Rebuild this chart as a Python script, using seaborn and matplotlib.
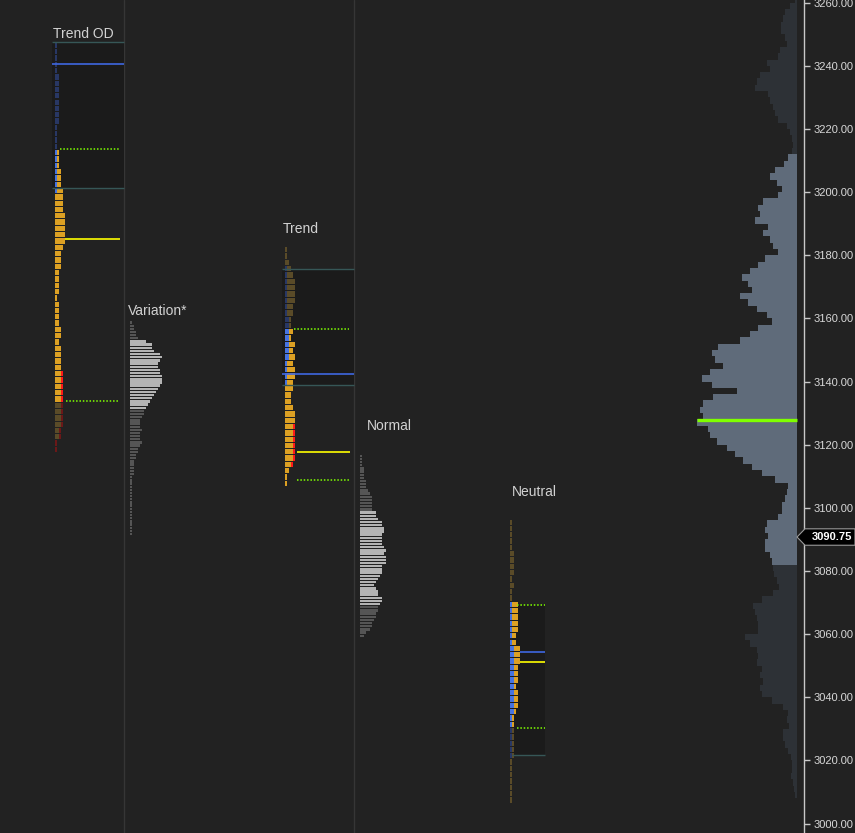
import numpy as np
import matplotlib
matplotlib.use("Agg")
import matplotlib.pyplot as plt
import seaborn as sns

sns.set_theme(style="dark", rc={"axes.facecolor": "#222222", "figure.facecolor": "#222222",
                                "patch.edgecolor": "none", "patch.linewidth": 0})
plt.rcParams["font.family"] = ["Liberation Sans", "DejaVu Sans"]

# ---- data -------------------------------------------------------------
# TPO profiles: row counts from top row downwards, blue (first period) and red (last period) counts
tod_total = [1, 1, 1, 1, 1, 2, 2, 2, 2, 2, 2, 2, 2, 1, 1, 1, 1, 2, 2, 2, 3, 3, 3, 4, 4, 4, 4,
             5, 5, 5, 5, 5, 4, 3, 3, 3, 2, 2, 2, 2, 1, 2, 2, 2, 2, 3, 3, 2, 3, 3, 3, 3,
             4, 4, 4, 4, 4, 4, 4, 4, 4, 3, 3, 1, 1]
tod_blue = [1, 1, 1, 1, 1, 2, 2, 2, 2, 2, 2, 2, 2, 1, 1, 1, 1, 1, 1, 1, 1, 1, 1, 1] + [0] * 41
tod_red = [0] * 52 + [1] * 13
tod_va = (17, 56)
tod_levels = {"box": (3201.3, 3247.5), "blue": 3240.6, "green": [3213.7, 3133.8], "yellow": 3185.15}

trend_total = [1, 1, 2, 3, 4, 5, 5, 5, 5, 4, 4, 3, 3, 4, 3, 5, 4, 5, 4, 5,
               5, 4, 4, 3, 3, 4, 5, 5, 5, 5, 5, 5, 5, 5, 4, 2, 1, 1]
trend_blue = [0, 0, 0, 1, 1, 1, 1, 1, 1, 1, 1, 2, 2, 2, 2, 2, 2, 2, 1, 1, 1, 1] + [0] * 16
trend_red = [0] * 28 + [1] * 7 + [0] * 3
trend_va = (13, 37)
trend_levels = {"box": (3138.9, 3175.55), "blue": 3142.3, "green": [3156.6, 3108.8], "yellow": 3117.7}

neut_total = [1, 1, 1, 1, 1, 2, 2, 2, 2, 1, 2, 1, 1, 4, 4, 4, 4, 4, 3, 3, 5, 5, 5,
              4, 4, 4, 3, 4, 4, 4, 3, 2, 2, 2, 2, 2, 2, 2, 1, 1, 1, 1, 1, 1, 1]
neut_blue = [0] * 13 + [1] * 7 + [2] * 11 + [1] * 7 + [0] * 7
neut_red = [0] * 45
neut_va = (13, 32)
neut_levels = {"box": (3021.7, 3069.2), "blue": 3054.2, "green": [3069.2, 3030.2], "yellow": 3051.1}

var_counts = [1, 2, 2, 3, 3, 4,
              8, 11, 11, 12, 15, 16, 15, 14, 14, 15, 15, 16, 16, 16, 15, 14, 13, 12, 11, 10, 9, 8,
              7, 7, 6, 5, 5, 5, 6, 5, 5, 5, 6, 5, 4, 4, 3, 3, 2, 2, 2, 2, 2] + [1] * 19
var_va = (6, 27)

norm_counts = [1, 1, 1, 1, 2, 2, 2, 2, 3, 3, 3, 4, 5, 6, 6, 6, 6, 6,
               8, 8, 9, 11, 11, 12, 12, 11, 11, 11, 11, 12, 13, 12, 13, 13, 13, 11, 11, 11, 10,
               9, 8, 7, 8, 9, 9, 11, 11, 10,
               9, 9, 8, 8, 7, 6, 6, 5, 3, 2]
norm_va = (18, 47)

# volume profile (2-point bins, from 3261 down to 3009)
vol_prices = list(range(3261, 3008, -2))
vol = [2, 7, 12, 14, 16, 16, 12, 10, 17, 19, 30, 27, 37, 40, 42, 29, 27, 24, 22, 19,
       10, 7, 5, 4, 5, 9, 13, 22, 27, 20, 15, 19, 34, 39, 37, 42, 29, 34, 27, 24,
       19, 32, 39, 47, 55, 49, 45, 57, 49, 40, 30, 25, 39, 47, 57, 79, 85, 82, 74, 87,
       95, 85, 60, 84, 94, 97, 94, 100, 89, 87, 80, 70, 62, 54, 45, 35, 22, 9, 10, 12,
       15, 15, 19, 30, 32, 29, 32, 32, 27, 25, 24, 23, 20, 18, 24, 35, 44, 42, 40, 39,
       39, 52, 47, 40, 39, 40, 35, 37, 34, 37, 35, 25, 14, 9, 10, 8, 14, 14, 12, 9,
       6, 5, 5, 6, 4, 3, 2]
vol_va = (3083, 3211.5)
poc_price = 3127.75
last_price = 3090.75

yticks = list(range(3000, 3261, 20))

# ---- style --------------------------------------------------------------
BG = "#222222"
C_OR, C_OR_D = "#dca023", "#5a4b28"
C_BL, C_BL_D = "#4673e1", "#283764"
C_RD, C_RD_D = "#ff1a1a", "#6b1818"
C_G, C_G_D = "#b4b4b4", "#555555"
UNIT = 2.0

fig = plt.figure(figsize=(8.55, 8.33), dpi=100)
ax = fig.add_axes([0, 0, 804 / 855, 1])
ax.set_xlim(0, 804)
ax.set_ylim(2997.0, 3260.86)
ax.grid(False)

for xs in (124, 354):
    ax.axvline(xs, color="#363636", lw=1, zorder=1)


def bars(y, w, left, h, colors):
    keep = w > 0
    ax.barh(y[keep], w[keep], left=np.broadcast_to(left, w.shape)[keep], height=h,
            color=colors[keep], linewidth=0, edgecolor="none", zorder=3)


def draw_tpo(left, top, step, total, blue, red, va):
    total, blue, red = map(np.asarray, (total, blue, red))
    idx = np.arange(len(total))
    y = top - idx * step
    bright = (idx >= va[0]) & (idx <= va[1])
    h = step * 0.84
    orange = total - blue - red
    bars(y, blue * UNIT, np.full(len(y), left, dtype=float), h, np.where(bright, C_BL, C_BL_D))
    bars(y, orange * UNIT, left + blue * UNIT, h, np.where(bright, C_OR, C_OR_D))
    bars(y, red * UNIT, left + (blue + orange) * UNIT, h, np.where(bright, C_RD, C_RD_D))


def draw_gray(left, top, step, counts, va):
    counts = np.asarray(counts)
    idx = np.arange(len(counts))
    bright = (idx >= va[0]) & (idx <= va[1])
    bars(top - idx * step, counts * UNIT, np.full(len(idx), left, dtype=float), step * 0.74,
         np.where(bright, C_G, C_G_D))


def draw_levels(lv, box_x, blue_x, green_x, yellow_x, top_line=True):
    lo, hi = lv["box"]
    ax.fill_between(box_x, lo, hi, color="#1b1b1b", zorder=2, lw=0)
    ax.hlines(lo, *box_x, color="#365757", lw=1, zorder=4)
    if top_line:
        ax.hlines(hi, *box_x, color="#365757", lw=1, zorder=4)
    ax.hlines(lv["blue"], *blue_x, color="#3f67e0", lw=1.2, zorder=4)
    ax.hlines(lv["yellow"], *yellow_x, color="#ffff00", lw=1.2, zorder=4)
    for g, gx in zip(lv["green"], green_x):
        ax.hlines(g, *gx, color="#7fff00", lw=1.1, linestyles=(0, (1, 1.2)), zorder=4)


# Trend OD
draw_levels(tod_levels, (52, 124), (52, 124), [(60, 119), (66, 119)], (65, 120))
draw_tpo(55, 3246.5, 2, tod_total, tod_blue, tod_red, tod_va)
# Trend
draw_levels(trend_levels, (282, 354), (282, 354), [(294, 349), (297, 349)], (297, 350))
draw_tpo(285, 3181.75, 2, trend_total, trend_blue, trend_red, trend_va)
# Neutral
draw_levels(neut_levels, (512, 545), (520, 545), [(517, 545), (517, 545)], (520, 545), top_line=False)
draw_tpo(510, 3095.45, 2, neut_total, neut_blue, neut_red, neut_va)
# gray profiles
draw_gray(130, 3158.7, 1, var_counts, var_va)
draw_gray(360, 3116.5, 1, norm_counts, norm_va)

# volume profile
vp = np.asarray(vol_prices, dtype=float)
vw = np.asarray(vol, dtype=float)
in_va = (vp >= vol_va[0]) & (vp <= vol_va[1])
ax.barh(vp, vw, left=797 - vw, height=2, color=np.where(in_va, "#5f6b7a", "#2d3136"),
        linewidth=0, edgecolor="none", zorder=3)
ax.hlines(poc_price, 797 - vw.max(), 797, color="#7fff00", lw=2.4, zorder=5)

# labels
lab_kw = dict(color="#d2d2d2", fontsize=10, va="center", ha="left", zorder=6)
ax.text(53, 3250.1, "Trend OD", **lab_kw)
ax.text(128, 3162.3, "Variation*", **lab_kw)
ax.text(283, 3188.3, "Trend", **lab_kw)
ax.text(367, 3126.0, "Normal", **lab_kw)
ax.text(512, 3105.0, "Neutral", **lab_kw)

# price axis
for s in ("left", "top", "bottom"):
    ax.spines[s].set_visible(False)
ax.spines["right"].set_color("#c8c8c8")
ax.spines["right"].set_linewidth(1)
ax.yaxis.tick_right()
ax.set_yticks(yticks)
ax.set_yticklabels([f"{t:.2f}" for t in yticks])
ax.set_xticks([])
ax.tick_params(axis="y", colors="#c8c8c8", labelcolor="#d8d8d8", labelsize=8,
               length=4, width=1, pad=3, right=True, left=False)

# last price tag
tag_x = [797, 805, 855, 855, 805]
tag_y = [last_price, last_price + 2.6, last_price + 2.6, last_price - 2.6, last_price - 2.6]
ax.fill(tag_x, tag_y, facecolor="#000000", edgecolor="#9a9a9a", lw=0.8, clip_on=False, zorder=7)
ax.text(812, last_price, f"{last_price:.2f}", color="white", fontsize=8, fontweight="bold",
        va="center", ha="left", clip_on=False, zorder=8)

fig.savefig("out.png", dpi=100, facecolor=BG)
